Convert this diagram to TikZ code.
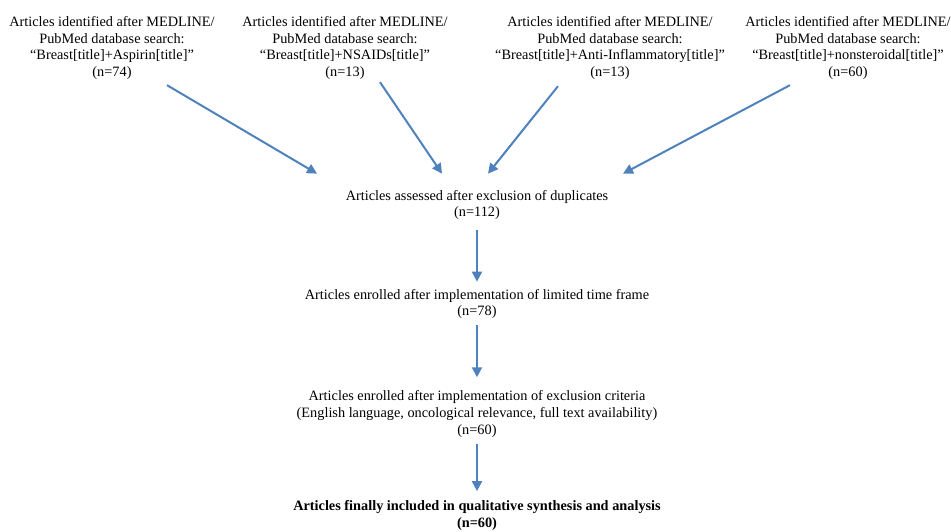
\documentclass[tikz,border=0pt]{standalone}
\usepackage{fontspec}
\setmainfont{Liberation Serif}
\usepackage{xcolor}
\usepackage{tikz}
\usetikzlibrary{calc,arrows.meta}
\definecolor{flowblue}{HTML}{4F81BD}

\begin{document}
\begin{tikzpicture}[x=1pt,y=-1pt,thick]
  % `search' is used for the four database queries at the top.
  % `stage' is used for the screening steps down the middle.
  % `flow' is used for all the blue arrows.
  \tikzstyle{search} = [align=center,inner sep=0pt,font=\fontsize{14.3}{16.8}\selectfont]
  \tikzstyle{stage} = [align=center,inner sep=0pt,font=\fontsize{14.3}{16.8}\selectfont]
  \tikzstyle{flow} = [draw=flowblue,line width=2pt,-{Triangle[length=10pt,width=10pt]}]
  \useasboundingbox (0,0) rectangle (951,531);
  %
  % Searches.
  \node[search] (aspirin) at (112,48) {Articles identified after MEDLINE/\\PubMed database search:\\``Breast[title]+Aspirin[title]''\\(n=74)};
  \node[search] (nsaids) at (345,48) {Articles identified after MEDLINE/\\PubMed database search:\\``Breast[title]+NSAIDs[title]''\\(n=13)};
  \node[search] (antiinfl) at (610,48) {Articles identified after MEDLINE/\\PubMed database search:\\``Breast[title]+Anti-Inflammatory[title]''\\(n=13)};
  \node[search] (nonster) at (848,48) {Articles identified after MEDLINE/\\PubMed database search:\\``Breast[title]+nonsteroidal[title]''\\(n=60)};
  %
  % Screening steps.
  \node[stage] (assessed) at (477,205) {Articles assessed after exclusion of duplicates\\(n=112)};
  \node[stage] (timeframe) at (477,304) {Articles enrolled after implementation of limited time frame\\(n=78)};
  \node[stage] (criteria) at (477,414) {Articles enrolled after implementation of exclusion criteria\\(English language, oncological relevance, full text availability)\\(n=60)};
  \node[stage,font=\fontsize{14.3}{16.8}\selectfont\bfseries] (included) at (477,515.5) {Articles finally included in qualitative synthesis and analysis\\(n=60)};
  %
  % Arrows.
  \draw[flow] ($(aspirin.south)+(55,5)$) -- ($(assessed.north)+(-160,-16)$);
  \draw[flow] ($(nsaids.south)+(35,2)$) -- ($(assessed.north)+(-35,-16)$);
  \draw[flow] ($(antiinfl.south)+(-52,6)$) -- ($(assessed.north)+(11,-16)$);
  \draw[flow] ($(nonster.south)+(-58,5)$) -- ($(assessed.north)+(146,-16)$);
  \draw[flow] ($(assessed.south)+(0,10)$) -- ($(timeframe.north)+(0,-7)$);
  \draw[flow] ($(timeframe.south)+(0,6)$) -- ($(criteria.north)+(0,-13)$);
  \draw[flow] ($(criteria.south)+(0,6)$) -- ($(included.north)+(0,-9)$);
  %
\end{tikzpicture}
\end{document}
